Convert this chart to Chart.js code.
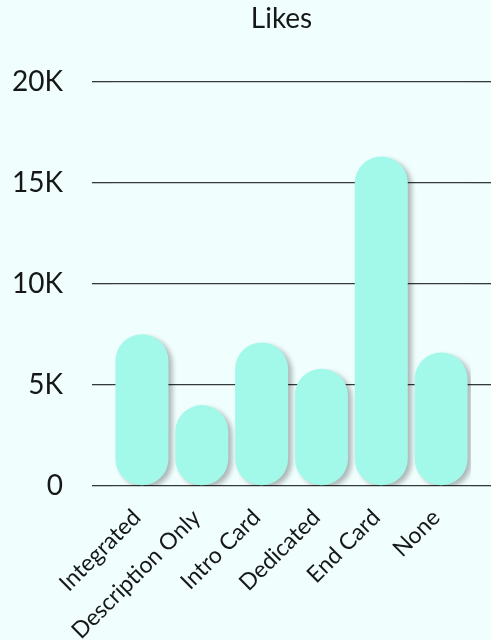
<!DOCTYPE html>
<html>
<head>
<meta charset="utf-8">
<script src="https://cdn.jsdelivr.net/npm/chart.js@4"></script>
<style>
  html, body { margin: 0; padding: 0; background: #f1fefe; }
  #wrap { width: 491px; height: 640px; }
</style>
</head>
<body>
<div id="wrap"><canvas id="likesChart"></canvas></div>
<script>
// sponsorship placement vs likes
const placements = ["Integrated", "Description Only", "Intro Card", "Dedicated", "End Card", "None"];
const likes = [7500, 4000, 7100, 5800, 16300, 6600];
const yTicks = [0, 5000, 10000, 15000, 20000];

const barColor = "#a2f9e9";
const gridColor = "#343939";
const textColor = "#161818";

function kLabel(v) {
    return v === 0 ? "0" : (v / 1000) + "K";
}

// soft drop shadow under the bars
const barShadow = {
    id: "barShadow",
    beforeDatasetsDraw(chart) {
        const ctx = chart.ctx;
        ctx.save();
        ctx.shadowColor = "rgba(0, 0, 0, 0.28)";
        ctx.shadowBlur = 5;
        ctx.shadowOffsetX = 4;
        ctx.shadowOffsetY = 3;
    },
    afterDatasetsDraw(chart) {
        chart.ctx.restore();
    }
};

// centre the title over the gridline span instead of the whole canvas
const titleOverGrid = {
    id: "titleOverGrid",
    afterLayout(chart) {
        const t = chart.titleBlock;
        t.left = chart.chartArea.left - 20;
        t.right = chart.chartArea.right;
    }
};

document.addEventListener("DOMContentLoaded", function () {
    const ctx = document.getElementById("likesChart").getContext("2d");
    new Chart(ctx, {
        type: "bar",
        data: {
            labels: placements,
            datasets: [{
                label: "Likes",
                data: likes,
                backgroundColor: barColor,
                borderRadius: 40,
                borderSkipped: false,
                barPercentage: 0.886,
                categoryPercentage: 1
            }]
        },
        options: {
            responsive: true,
            maintainAspectRatio: false,
            animation: false,
            layout: { padding: 0 },
            plugins: {
                legend: { display: false },
                tooltip: { enabled: false },
                title: {
                    display: true,
                    text: "Likes",
                    color: textColor,
                    font: { family: "Lato", size: 28, weight: "normal" },
                    padding: { top: 2, bottom: 46 }
                }
            },
            scales: {
                x: {
                    grid: { display: false },
                    border: { display: false },
                    ticks: {
                        color: textColor,
                        font: { family: "Lato", size: 23 },
                        minRotation: 45,
                        maxRotation: 45,
                        autoSkip: false,
                        padding: 10,
                        labelOffset: -5
                    },
                    afterFit(scale) { scale.height = 154; }
                },
                y: {
                    min: 0,
                    max: 20000,
                    afterBuildTicks(scale) {
                        scale.ticks = yTicks.map(v => ({ value: v }));
                    },
                    grid: { color: gridColor, lineWidth: 1.3, tickLength: 20 },
                    border: { display: false },
                    ticks: {
                        color: textColor,
                        font: { family: "Lato", size: 28 },
                        padding: 29,
                        callback: kLabel
                    },
                    afterFit(scale) { scale.width = 112; }
                },
                y2: {
                    position: "right",
                    min: 0,
                    max: 20000,
                    afterBuildTicks(scale) {
                        scale.ticks = yTicks.map(v => ({ value: v }));
                    },
                    grid: { color: gridColor, lineWidth: 1.3, tickLength: 20, drawOnChartArea: false },
                    border: { display: false },
                    ticks: { display: false },
                    afterFit(scale) { scale.width = 20; }
                }
            }
        },
        plugins: [barShadow, titleOverGrid]
    });
});
</script>
</body>
</html>
